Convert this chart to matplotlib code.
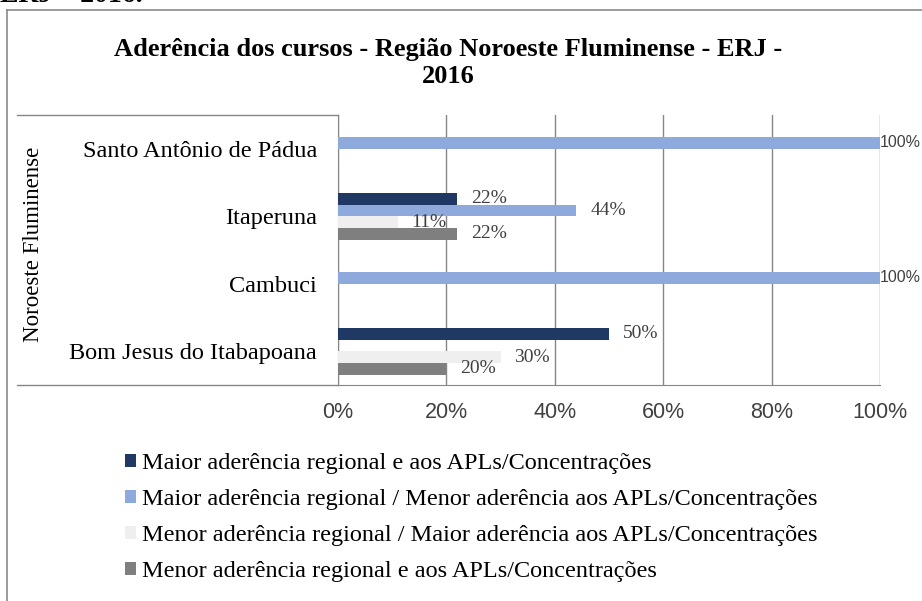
import numpy as np
import matplotlib.pyplot as plt
from matplotlib.patches import Patch
from matplotlib.lines import Line2D

# dados (de cima para baixo)
municipios = ["Santo Antônio de Pádua", "Itaperuna", "Cambuci", "Bom Jesus do Itabapoana"]
maior_ambos = [0, 22, 0, 50]
maior_reg_menor_apl = [100, 44, 100, 0]
menor_reg_maior_apl = [0, 11, 0, 30]
menor_ambos = [0, 22, 0, 20]

series = [maior_ambos, maior_reg_menor_apl, menor_reg_maior_apl, menor_ambos]
nomes = ["Maior aderência regional e aos APLs/Concentrações",
         "Maior aderência regional / Menor aderência aos APLs/Concentrações",
         "Menor aderência regional / Maior aderência aos APLs/Concentrações",
         "Menor aderência regional e aos APLs/Concentrações"]
cores = ["#203864", "#8EA9DB", "#EFEFEF", "#7F7F7F"]

W, H = 922, 601
fig = plt.figure(figsize=(W / 100, H / 100), dpi=100)

def fx(px):
    return px / W

def fy(py):
    return 1 - py / H

ax = fig.add_axes([fx(338), fy(385), fx(880) - fx(338), fy(115) - fy(385)])

y = np.arange(len(municipios))
bh = 0.173
for i, (vals, cor) in enumerate(zip(series, cores)):
    pos = y + (i - 1.5) * bh
    ax.barh(pos, vals, height=bh, color=cor, zorder=3)
    for p, v in zip(pos, vals):
        if v == 0:
            continue
        if v >= 100:
            ax.annotate(f"{v}%", (v, p), xytext=(0, 0), textcoords="offset points",
                        va="center", ha="left", fontsize=11.5, color="#404040",
                        family="Liberation Sans", annotation_clip=False)
        else:
            ax.annotate(f"{v}%", (v, p), xytext=(10, 0), textcoords="offset points",
                        va="center", ha="left", fontsize=14, color="#404040",
                        family="Liberation Serif")

ax.set_xlim(0, 100)
ax.set_ylim(len(municipios) - 0.5, -0.5)
ax.set_xticks(np.arange(0, 101, 20))
ax.set_xticklabels([f"{t}%" for t in range(0, 101, 20)], family="Liberation Sans",
                   fontsize=15.5, color="#404040")
ax.set_yticks(y)
ax.set_yticklabels(municipios, family="Liberation Serif", fontsize=17.5)
ax.tick_params(axis="y", length=0, pad=15)
ax.tick_params(axis="x", length=0, pad=12)
ax.grid(axis="x", color="#868686", linewidth=1, zorder=0)
for s in ["top", "right"]:
    ax.spines[s].set_visible(False)
for s in ["left", "bottom"]:
    ax.spines[s].set_color("#868686")

# caixa do eixo de categorias
fig.add_artist(Line2D([fx(17), fx(338)], [fy(115), fy(115)], color="#868686", lw=1))
fig.add_artist(Line2D([fx(17), fx(338)], [fy(385), fy(385)], color="#868686", lw=1))
fig.text(fx(34), fy(244), "Noroeste Fluminense", rotation=90, ha="center", va="center",
         family="Liberation Serif", fontsize=16.5)

# moldura
fig.add_artist(Line2D([fx(7), fx(7)], [fy(10), 0], color="#8a8a8a", lw=1.2))
fig.add_artist(Line2D([fx(7), 1], [fy(10), fy(10)], color="#8a8a8a", lw=1.2))
fig.text(fx(0), fy(-5), "ERJ – 2016.", ha="left", va="center", family="Liberation Serif",
         fontsize=20, fontweight="bold")

fig.text(fx(448), fy(63), "Aderência dos cursos - Região Noroeste Fluminense - ERJ -\n2016",
         ha="center", va="center", family="Liberation Serif", fontsize=19,
         fontweight="bold", linespacing=1.25)

handles = [Patch(facecolor=c, edgecolor="none") for c in cores]
fig.legend(handles, nomes, loc="upper left", bbox_to_anchor=(fx(125), fy(453)),
           frameon=False, prop={"family": "Liberation Serif", "size": 17.5},
           handlelength=0.45, handleheight=0.45, handletextpad=0.25,
           labelspacing=0.62, borderaxespad=0, borderpad=0)

fig.savefig("out.png", dpi=100)
